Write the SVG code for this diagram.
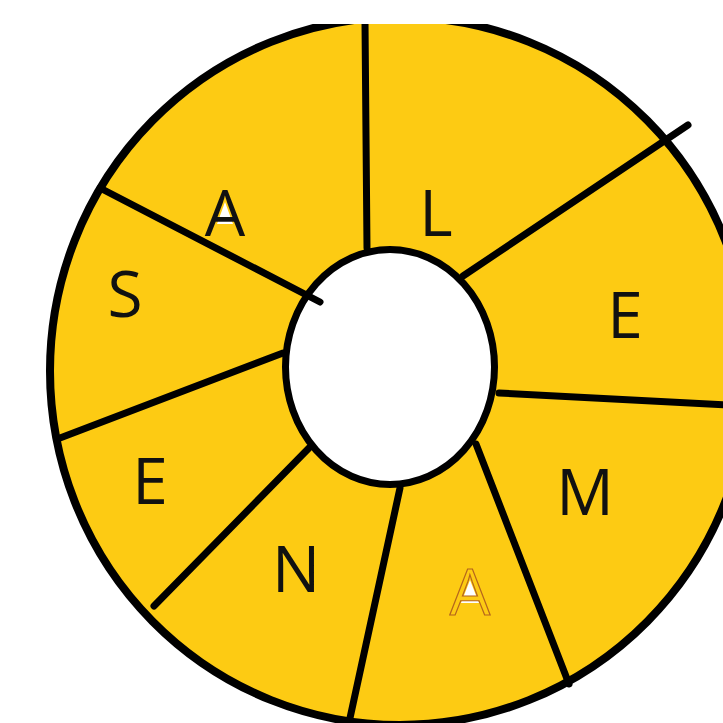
<svg xmlns="http://www.w3.org/2000/svg" width="723" height="723" viewBox="0 0 723 723">
<defs>
<style>
.lbl{font-family:"Open Sans","Noto Sans",sans-serif;font-size:64px;fill:#111;text-anchor:middle}
.div{stroke:#000;stroke-width:7;stroke-linecap:round;fill:none}
</style>
<clipPath id="cp"><rect x="0" y="24" width="723" height="699"/></clipPath>
</defs>
<rect width="723" height="723" fill="#fff"/>
<g id="ring" clip-path="url(#cp)">
<ellipse cx="400" cy="371" rx="350" ry="354" fill="#FDCB13" stroke="#000" stroke-width="8"/>
<ellipse cx="390" cy="367" rx="104.5" ry="117.5" fill="#fff" stroke="#000" stroke-width="7"/>
</g>
<g id="dividers" clip-path="url(#cp)">
<line class="div" x1="365" y1="22" x2="367" y2="248"/>
<line class="div" x1="100" y1="188" x2="320" y2="302"/>
<line class="div" x1="60" y1="438" x2="283" y2="353"/>
<line class="div" x1="154" y1="606" x2="309" y2="448"/>
<line class="div" x1="350" y1="718" x2="400" y2="488"/>
<line class="div" x1="476" y1="444" x2="569" y2="684"/>
<line class="div" x1="499" y1="393" x2="726" y2="405"/>
<line class="div" x1="463" y1="276" x2="688" y2="125"/>
</g>
<g id="seg-A1"><polygon points="225,202 217,224 233,224" fill="#fff"/><text class="lbl" x="225" y="236">A</text></g>
<g id="seg-L"><text class="lbl" x="436" y="236">L</text></g>
<g id="seg-E1"><text class="lbl" x="625" y="338">E</text></g>
<g id="seg-M"><text class="lbl" x="585" y="515">M</text></g>
<g id="seg-A2"><polygon points="470,580 461,603 479,603" fill="#fff"/><text x="470" y="615" style="font-family:'Open Sans','Noto Sans',sans-serif;font-size:64px;text-anchor:middle;fill:#FDCB13;stroke:#B5651D;stroke-width:1.2">A</text></g>
<g id="seg-N"><text class="lbl" x="296" y="592">N</text></g>
<g id="seg-E2"><text class="lbl" x="150" y="504">E</text></g>
<g id="seg-S"><text class="lbl" x="125" y="317">S</text></g>
</svg>
